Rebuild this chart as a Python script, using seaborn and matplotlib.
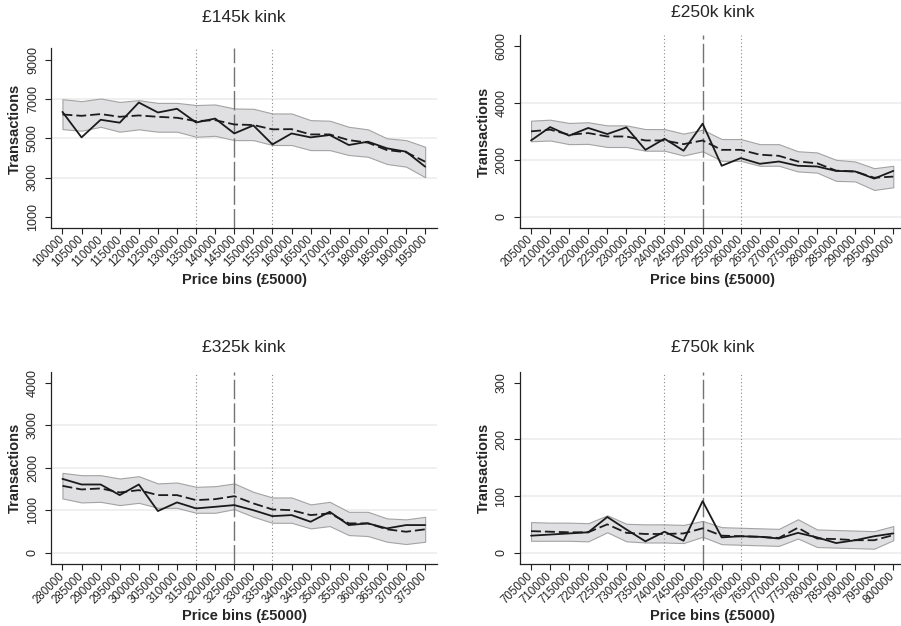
import matplotlib
matplotlib.use("Agg")
import matplotlib.pyplot as plt
import numpy as np
import pandas as pd
import seaborn as sns

# ---- data -------------------------------------------------------------
bins_145 = [100000, 105000, 110000, 115000, 120000, 125000, 130000, 135000, 140000, 145000,
            150000, 155000, 160000, 165000, 170000, 175000, 180000, 185000, 190000, 195000]
actual_145 = [6350, 5050, 5950, 5800, 6830, 6320, 6510, 5810, 6010, 5250,
              5660, 4690, 5250, 5050, 5170, 4660, 4830, 4490, 4320, 3555]
counter_145 = [6220, 6150, 6240, 6100, 6170, 6100, 6050, 5880, 5930, 5710,
               5680, 5460, 5470, 5200, 5200, 4910, 4780, 4400, 4290, 3810]
upper_145 = [7000, 6900, 7035, 6860, 6950, 6810, 6810, 6700, 6730, 6525,
             6510, 6270, 6270, 5930, 5900, 5590, 5460, 5000, 4910, 4570]
lower_145 = [5470, 5390, 5590, 5340, 5460, 5340, 5340, 5080, 5130, 4910,
             4910, 4660, 4660, 4400, 4400, 4150, 4060, 3690, 3555, 3015]

bins_250 = [205000, 210000, 215000, 220000, 225000, 230000, 235000, 240000, 245000, 250000,
            255000, 260000, 265000, 270000, 275000, 280000, 285000, 290000, 295000, 300000]
actual_250 = [2680, 3150, 2850, 3120, 2905, 3140, 2350, 2740, 2320, 3270,
              1790, 2060, 1860, 1940, 1790, 1765, 1610, 1590, 1340, 1610]
counter_250 = [3000, 3060, 2880, 2940, 2820, 2820, 2680, 2680, 2550, 2680,
               2350, 2350, 2180, 2140, 1940, 1880, 1620, 1590, 1370, 1410]
upper_250 = [3375, 3410, 3295, 3320, 3210, 3210, 3080, 3080, 2920, 3060,
             2730, 2730, 2550, 2550, 2300, 2260, 2000, 1940, 1705, 1790]
lower_250 = [2650, 2680, 2550, 2560, 2450, 2450, 2320, 2320, 2150, 2300,
             1965, 1965, 1790, 1790, 1590, 1550, 1260, 1240, 940, 1035]

bins_325 = [280000, 285000, 290000, 295000, 300000, 305000, 310000, 315000, 320000, 325000,
            330000, 335000, 340000, 345000, 350000, 355000, 360000, 365000, 370000, 375000]
actual_325 = [1737, 1605, 1605, 1355, 1605, 980, 1183, 1042, 1080, 1120,
              1000, 860, 885, 728, 962, 650, 690, 572, 650, 650]
counter_325 = [1573, 1488, 1512, 1418, 1472, 1355, 1355, 1237, 1260, 1330,
               1160, 1018, 1000, 885, 925, 690, 690, 550, 493, 550]
upper_325 = [1878, 1824, 1824, 1746, 1800, 1630, 1652, 1550, 1565, 1630,
             1432, 1300, 1300, 1136, 1197, 962, 962, 807, 784, 845]
lower_325 = [1277, 1183, 1197, 1120, 1174, 1056, 1056, 939, 939, 1026,
             845, 704, 704, 572, 627, 415, 392, 258, 204, 258]

bins_750 = [705000, 710000, 715000, 720000, 725000, 730000, 735000, 740000, 745000, 750000,
            755000, 760000, 765000, 770000, 775000, 780000, 785000, 790000, 795000, 800000]
actual_750 = [30, 32, 34, 36, 63, 41, 20, 37, 21, 91,
              27, 29, 28, 25, 35, 27, 17, 22, 29, 34]
counter_750 = [38, 37, 36, 36, 50, 35, 33, 33, 34, 43,
               30, 29, 28, 26, 44, 25, 24, 22, 22, 31]
upper_750 = [54, 53, 53, 52, 66, 51, 50, 50, 49, 56,
             45, 44, 43, 42, 59, 41, 40, 39, 38, 47]
lower_750 = [21, 21, 21, 20, 36, 20, 18, 18, 17, 28,
             15, 14, 13, 12, 25, 10, 9, 8, 7, 22]

titles = ["£145k kink", "£250k kink", "£325k kink", "£750k kink"]
kinks = [145000, 250000, 325000, 750000]

# ---- style ------------------------------------------------------------
sns.set_style("ticks")
plt.rcParams["font.family"] = ["Liberation Sans", "DejaVu Sans"]
narrow = ["Liberation Sans Narrow", "Liberation Sans", "DejaVu Sans"]

W, H = 901, 626
fig = plt.figure(figsize=(W / 100, H / 100), dpi=100)


def px_axes(left, top, right, bottom):
    return fig.add_axes([left / W, 1 - bottom / H, (right - left) / W, (bottom - top) / H])


panels = [
    dict(bins=bins_145, act=actual_145, cf=counter_145, up=upper_145, lo=lower_145,
         box=(51, 48, 437, 228), ylim=(423, 9613), yticks=[1000, 3000, 5000, 7000, 9000],
         grid=[3000, 5000, 7000], title_y=1.167, ylab_y=0.55),
    dict(bins=bins_250, act=actual_250, cf=counter_250, up=upper_250, lo=lower_250,
         box=(519.6, 35, 905.1, 228), ylim=(-397, 6387), yticks=[0, 2000, 4000, 6000],
         grid=[0, 2000, 4000], title_y=1.119, ylab_y=0.5),
    dict(bins=bins_325, act=actual_325, cf=counter_325, up=upper_325, lo=lower_325,
         box=(51, 371.7, 437, 564.3), ylim=(-273, 4259), yticks=[0, 1000, 2000, 3000, 4000],
         grid=[0, 1000, 2000, 3000], title_y=1.128, ylab_y=0.5),
    dict(bins=bins_750, act=actual_750, cf=counter_750, up=upper_750, lo=lower_750,
         box=(519.6, 371.7, 905.1, 564.3), ylim=(-20.5, 319.4), yticks=[0, 100, 200, 300],
         grid=[0, 100, 200], title_y=1.128, ylab_y=0.5),
]

text_col = "#262626"

for p, title, kink in zip(panels, titles, kinks):
    ax = px_axes(*p["box"])
    df = pd.DataFrame({"bin": p["bins"], "actual": p["act"], "counterfactual": p["cf"],
                       "upper": p["up"], "lower": p["lo"]})

    for g in p["grid"]:
        ax.axhline(g, color="#ebebeb", lw=1.1, zorder=0)

    ax.fill_between(df["bin"], df["lower"], df["upper"], facecolor="#e0e0e2",
                    edgecolor="#a3a3a3", lw=0.8, zorder=1)

    ax.axvline(kink, color="#737373", lw=1.0, ls=(0, (14, 3)), zorder=3)
    ax.axvline(kink - 10000, color="#8a8a8a", lw=0.8, ls=(0, (1, 2.2)), zorder=3)
    ax.axvline(kink + 10000, color="#8a8a8a", lw=0.8, ls=(0, (1, 2.2)), zorder=3)

    sns.lineplot(data=df, x="bin", y="counterfactual", ax=ax, color="#1c1c1c",
                 lw=1.3, zorder=4).lines[-1].set_dashes((5.5, 2.2))
    sns.lineplot(data=df, x="bin", y="actual", ax=ax, color="#1a1a1a", lw=1.3, zorder=5)

    step = p["bins"][1] - p["bins"][0]
    ax.set_xlim(p["bins"][0] - 0.6 * step, p["bins"][-1] + 0.62 * step)
    ax.set_ylim(*p["ylim"])
    ax.set_xticks(p["bins"])
    ax.set_xticklabels([str(b) for b in p["bins"]], rotation=45, ha="right",
                       va="center", rotation_mode="anchor", fontsize=8.3, color=text_col)
    ax.set_yticks(p["yticks"])
    ax.set_yticklabels([str(v) for v in p["yticks"]], rotation=90, va="center",
                       ha="center", fontsize=9, color=text_col, family=narrow)
    ax.tick_params(axis="x", length=4, width=0.8, pad=3, color="#222222")
    ax.tick_params(axis="y", length=4, width=0.8, pad=9, color="#222222")

    for s in ("top", "right"):
        ax.spines[s].set_visible(False)
    for s in ("left", "bottom"):
        ax.spines[s].set_linewidth(0.9)
        ax.spines[s].set_color("#222222")

    h = p["box"][3] - p["box"][1]
    ax.set_xlabel("Price bins (£5000)", fontsize=10.5, fontweight="bold", color=text_col)
    ax.xaxis.set_label_coords(0.5, -52.0 / h)
    ax.xaxis.label.set_va("center")
    ax.set_ylabel("Transactions", fontsize=10.5, fontweight="bold", color=text_col)
    ax.yaxis.set_label_coords(-36.0 / (p["box"][2] - p["box"][0]), p["ylab_y"])
    ax.yaxis.label.set_va("center")

    ax.text(0.5, p["title_y"], title, transform=ax.transAxes, ha="center", va="center",
            fontsize=12.5, color=text_col)

fig.savefig("out.png", dpi=100, facecolor="white")
